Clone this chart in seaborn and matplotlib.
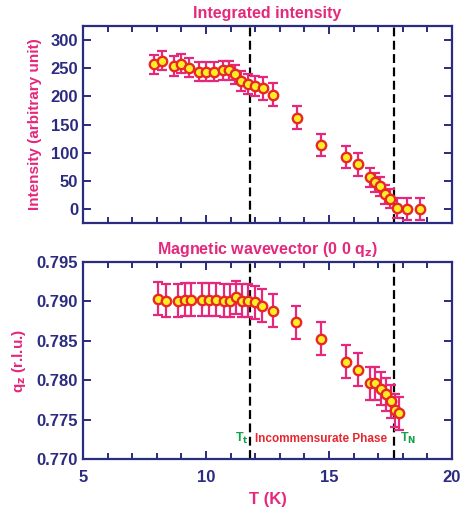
import numpy as np
import pandas as pd
import matplotlib
matplotlib.use("Agg")
import matplotlib.pyplot as plt
from matplotlib.ticker import MultipleLocator
import seaborn as sns

# ---- data ----
T_int = [7.89, 8.22, 8.69, 9.00, 9.31, 9.71, 10.02, 10.32, 10.69, 10.95, 11.19, 11.44,
         11.70, 12.01, 12.30, 12.71, 13.70, 14.68, 15.69, 16.17, 16.65, 16.89, 17.08,
         17.28, 17.48, 17.77, 18.17, 18.69]
intensity = [257, 263, 254, 258, 251, 244, 244, 244, 246, 246, 239, 227,
             222, 219, 214, 203, 162, 114, 92, 79, 56, 47, 40,
             26, 18, 2, 0, 0]
int_err = [17, 17, 17, 17, 17, 17, 17, 17, 17, 17, 17, 18,
           18, 18, 20, 20, 20, 20, 20, 20, 17, 17, 17,
           17, 17, 18, 20, 20]

T_q = [8.06, 8.37, 8.86, 9.13, 9.40, 9.83, 10.13, 10.40, 10.75, 10.98, 11.24, 11.47,
       11.70, 12.01, 12.29, 12.71, 13.66, 14.68, 15.71, 16.19, 16.65, 16.89, 17.11,
       17.30, 17.51, 17.70, 17.85]
qz = [0.79032, 0.79011, 0.79011, 0.79020, 0.79020, 0.79020, 0.79020, 0.79024, 0.79011,
      0.79011, 0.79054, 0.79011, 0.79011, 0.78990, 0.78943, 0.78884, 0.78735, 0.78526,
      0.78233, 0.78135, 0.77961, 0.77961, 0.77889, 0.77821, 0.77731, 0.77616, 0.77582]
qz_err = [0.0021] * 27

T_t, T_N = 11.8, 17.65
x_ticks = [5, 10, 15, 20]
int_ticks = [0, 50, 100, 150, 200, 250, 300]
q_ticks = [0.770, 0.775, 0.780, 0.785, 0.790, 0.795]

# ---- style ----
sns.set_theme(style="white")
plt.rcParams['font.family'] = ['Liberation Sans', 'DejaVu Sans']
NAVY = '#2b2b80'
PINK = '#e4287c'
FILL = '#ffee22'
EDGE = '#e82828'
GREEN = '#12a04a'
RED = '#e82830'

fig = plt.figure(figsize=(4.65, 5.18), dpi=100)
ax1 = fig.add_axes([0.1785, 0.5695, 0.7935, 0.3803])
ax2 = fig.add_axes([0.1785, 0.1139, 0.7935, 0.3803])

df1 = pd.DataFrame({'T': T_int, 'I': intensity, 'e': int_err})
df2 = pd.DataFrame({'T': T_q, 'q': qz, 'e': qz_err})

for ax, df, ycol in [(ax1, df1, 'I'), (ax2, df2, 'q')]:
    ax.errorbar(df['T'], df[ycol], yerr=df['e'], fmt='none', ecolor=PINK,
                elinewidth=1.6, capsize=3.6, capthick=1.6, zorder=2)
    sns.scatterplot(data=df, x='T', y=ycol, ax=ax, s=46, color=FILL,
                    edgecolor=EDGE, linewidth=1.7, zorder=3, legend=False)
    for xv in (T_t, T_N):
        ax.axvline(xv, color='black', lw=1.6, dashes=(4, 2), zorder=1)
    ax.set_xlim(5, 20)
    ax.set_xticks(x_ticks)
    ax.xaxis.set_minor_locator(MultipleLocator(1))
    for s in ax.spines.values():
        s.set_color(NAVY)
        s.set_linewidth(1.6)
    ax.tick_params(which='both', direction='in', top=True, right=True,
                   bottom=True, left=True, color=NAVY, width=1.4,
                   labelcolor=NAVY, labelsize=12)
    ax.tick_params(which='major', length=6)
    ax.tick_params(which='minor', length=4)
    ax.tick_params(axis='x', pad=8)
    for lab in ax.get_xticklabels() + ax.get_yticklabels():
        lab.set_fontweight('bold')
    ax.set_xlabel('')
    ax.set_ylabel('')

ax1.set_ylim(-25, 325)
ax1.set_yticks(int_ticks)
ax1.tick_params(labelbottom=False)
ax1.set_ylabel('Intensity (arbitrary unit)', color=PINK, fontsize=11, fontweight='bold', labelpad=6)
ax1.set_title('Integrated intensity', color=PINK, fontsize=11.5, fontweight='bold', pad=6)

ax2.set_ylim(0.770, 0.795)
ax2.set_yticks(q_ticks)
ax2.set_yticklabels([f'{v:.3f}' for v in q_ticks])
for lab in ax2.get_yticklabels():
    lab.set_fontweight('bold')
ax2.set_ylabel(r'q$_\mathbf{z}$ (r.l.u.)', color=PINK, fontsize=11, fontweight='bold', labelpad=6)
ax2.set_title(r'Magnetic wavevector (0 0 q$_\mathbf{z}$)', color=PINK, fontsize=11.5,
              fontweight='bold', pad=6)
ax2.set_xlabel('T (K)', color=PINK, fontsize=12, fontweight='bold', labelpad=5)

ax2.text(11.72, 0.7726, r'T$_\mathbf{t}$', color=GREEN, fontsize=9, fontweight='bold',
         ha='right', va='center')
ax2.text(11.98, 0.7726, 'Incommensurate Phase', color=RED, fontsize=8.5, fontweight='bold',
         ha='left', va='center')
ax2.text(17.9, 0.7726, r'T$_\mathbf{N}$', color=GREEN, fontsize=9, fontweight='bold',
         ha='left', va='center')

fig.savefig('out.png', dpi=100)
